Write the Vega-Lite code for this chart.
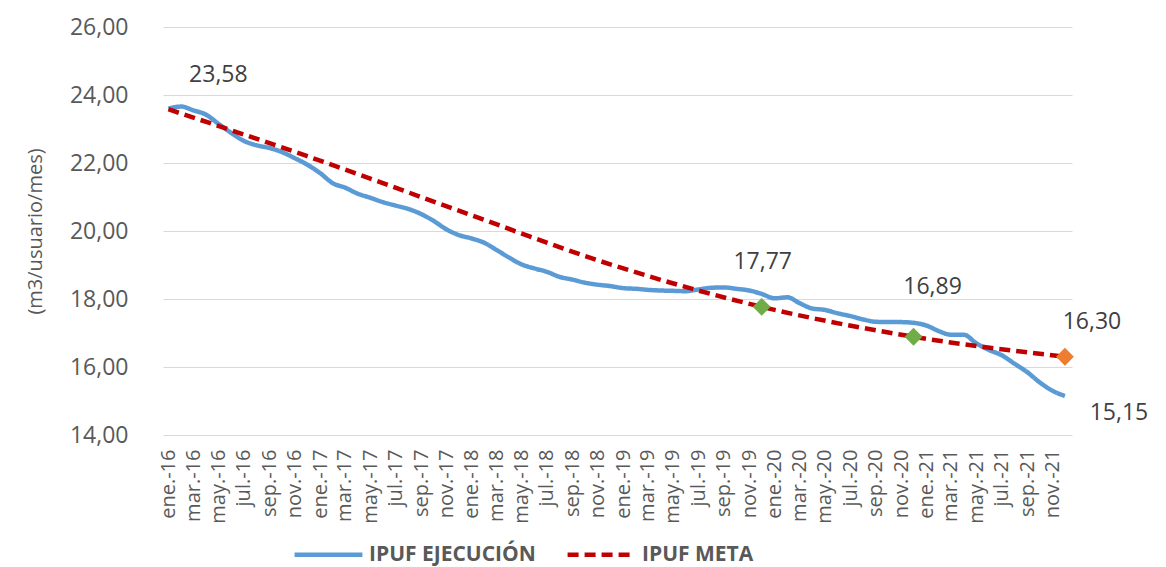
{
  "$schema": "https://vega.github.io/schema/vega-lite/v6.json",
  "width": 909,
  "height": 408,
  "autosize": "none",
  "padding": {"left": 163, "top": 27, "right": 94, "bottom": 132},
  "background": "white",
  "config": {"view": {"stroke": null}, "font": "Open Sans"},
  "datasets": {
    "series": [
      {"fecha": "2016/01/01", "serie": "IPUF EJECUCIÓN", "valor": 23.60},
      {"fecha": "2016/02/01", "serie": "IPUF EJECUCIÓN", "valor": 23.66},
      {"fecha": "2016/03/01", "serie": "IPUF EJECUCIÓN", "valor": 23.55},
      {"fecha": "2016/04/01", "serie": "IPUF EJECUCIÓN", "valor": 23.42},
      {"fecha": "2016/05/01", "serie": "IPUF EJECUCIÓN", "valor": 23.15},
      {"fecha": "2016/06/01", "serie": "IPUF EJECUCIÓN", "valor": 22.88},
      {"fecha": "2016/07/01", "serie": "IPUF EJECUCIÓN", "valor": 22.65},
      {"fecha": "2016/08/01", "serie": "IPUF EJECUCIÓN", "valor": 22.52},
      {"fecha": "2016/09/01", "serie": "IPUF EJECUCIÓN", "valor": 22.44},
      {"fecha": "2016/10/01", "serie": "IPUF EJECUCIÓN", "valor": 22.32},
      {"fecha": "2016/11/01", "serie": "IPUF EJECUCIÓN", "valor": 22.14},
      {"fecha": "2016/12/01", "serie": "IPUF EJECUCIÓN", "valor": 21.95},
      {"fecha": "2017/01/01", "serie": "IPUF EJECUCIÓN", "valor": 21.70},
      {"fecha": "2017/02/01", "serie": "IPUF EJECUCIÓN", "valor": 21.40},
      {"fecha": "2017/03/01", "serie": "IPUF EJECUCIÓN", "valor": 21.28},
      {"fecha": "2017/04/01", "serie": "IPUF EJECUCIÓN", "valor": 21.10},
      {"fecha": "2017/05/01", "serie": "IPUF EJECUCIÓN", "valor": 20.98},
      {"fecha": "2017/06/01", "serie": "IPUF EJECUCIÓN", "valor": 20.85},
      {"fecha": "2017/07/01", "serie": "IPUF EJECUCIÓN", "valor": 20.75},
      {"fecha": "2017/08/01", "serie": "IPUF EJECUCIÓN", "valor": 20.65},
      {"fecha": "2017/09/01", "serie": "IPUF EJECUCIÓN", "valor": 20.50},
      {"fecha": "2017/10/01", "serie": "IPUF EJECUCIÓN", "valor": 20.30},
      {"fecha": "2017/11/01", "serie": "IPUF EJECUCIÓN", "valor": 20.05},
      {"fecha": "2017/12/01", "serie": "IPUF EJECUCIÓN", "valor": 19.88},
      {"fecha": "2018/01/01", "serie": "IPUF EJECUCIÓN", "valor": 19.78},
      {"fecha": "2018/02/01", "serie": "IPUF EJECUCIÓN", "valor": 19.65},
      {"fecha": "2018/03/01", "serie": "IPUF EJECUCIÓN", "valor": 19.45},
      {"fecha": "2018/04/01", "serie": "IPUF EJECUCIÓN", "valor": 19.22},
      {"fecha": "2018/05/01", "serie": "IPUF EJECUCIÓN", "valor": 19.02},
      {"fecha": "2018/06/01", "serie": "IPUF EJECUCIÓN", "valor": 18.90},
      {"fecha": "2018/07/01", "serie": "IPUF EJECUCIÓN", "valor": 18.80},
      {"fecha": "2018/08/01", "serie": "IPUF EJECUCIÓN", "valor": 18.65},
      {"fecha": "2018/09/01", "serie": "IPUF EJECUCIÓN", "valor": 18.57},
      {"fecha": "2018/10/01", "serie": "IPUF EJECUCIÓN", "valor": 18.48},
      {"fecha": "2018/11/01", "serie": "IPUF EJECUCIÓN", "valor": 18.42},
      {"fecha": "2018/12/01", "serie": "IPUF EJECUCIÓN", "valor": 18.38},
      {"fecha": "2019/01/01", "serie": "IPUF EJECUCIÓN", "valor": 18.32},
      {"fecha": "2019/02/01", "serie": "IPUF EJECUCIÓN", "valor": 18.30},
      {"fecha": "2019/03/01", "serie": "IPUF EJECUCIÓN", "valor": 18.27},
      {"fecha": "2019/04/01", "serie": "IPUF EJECUCIÓN", "valor": 18.25},
      {"fecha": "2019/05/01", "serie": "IPUF EJECUCIÓN", "valor": 18.24},
      {"fecha": "2019/06/01", "serie": "IPUF EJECUCIÓN", "valor": 18.23},
      {"fecha": "2019/07/01", "serie": "IPUF EJECUCIÓN", "valor": 18.28},
      {"fecha": "2019/08/01", "serie": "IPUF EJECUCIÓN", "valor": 18.33},
      {"fecha": "2019/09/01", "serie": "IPUF EJECUCIÓN", "valor": 18.34},
      {"fecha": "2019/10/01", "serie": "IPUF EJECUCIÓN", "valor": 18.30},
      {"fecha": "2019/11/01", "serie": "IPUF EJECUCIÓN", "valor": 18.25},
      {"fecha": "2019/12/01", "serie": "IPUF EJECUCIÓN", "valor": 18.15},
      {"fecha": "2020/01/01", "serie": "IPUF EJECUCIÓN", "valor": 18.02},
      {"fecha": "2020/02/01", "serie": "IPUF EJECUCIÓN", "valor": 18.05},
      {"fecha": "2020/03/01", "serie": "IPUF EJECUCIÓN", "valor": 17.88},
      {"fecha": "2020/04/01", "serie": "IPUF EJECUCIÓN", "valor": 17.72},
      {"fecha": "2020/05/01", "serie": "IPUF EJECUCIÓN", "valor": 17.68},
      {"fecha": "2020/06/01", "serie": "IPUF EJECUCIÓN", "valor": 17.58},
      {"fecha": "2020/07/01", "serie": "IPUF EJECUCIÓN", "valor": 17.50},
      {"fecha": "2020/08/01", "serie": "IPUF EJECUCIÓN", "valor": 17.40},
      {"fecha": "2020/09/01", "serie": "IPUF EJECUCIÓN", "valor": 17.33},
      {"fecha": "2020/10/01", "serie": "IPUF EJECUCIÓN", "valor": 17.32},
      {"fecha": "2020/11/01", "serie": "IPUF EJECUCIÓN", "valor": 17.32},
      {"fecha": "2020/12/01", "serie": "IPUF EJECUCIÓN", "valor": 17.30},
      {"fecha": "2021/01/01", "serie": "IPUF EJECUCIÓN", "valor": 17.22},
      {"fecha": "2021/02/01", "serie": "IPUF EJECUCIÓN", "valor": 17.05},
      {"fecha": "2021/03/01", "serie": "IPUF EJECUCIÓN", "valor": 16.95},
      {"fecha": "2021/04/01", "serie": "IPUF EJECUCIÓN", "valor": 16.95},
      {"fecha": "2021/05/01", "serie": "IPUF EJECUCIÓN", "valor": 16.70},
      {"fecha": "2021/06/01", "serie": "IPUF EJECUCIÓN", "valor": 16.50},
      {"fecha": "2021/07/01", "serie": "IPUF EJECUCIÓN", "valor": 16.35},
      {"fecha": "2021/08/01", "serie": "IPUF EJECUCIÓN", "valor": 16.10},
      {"fecha": "2021/09/01", "serie": "IPUF EJECUCIÓN", "valor": 15.85},
      {"fecha": "2021/10/01", "serie": "IPUF EJECUCIÓN", "valor": 15.55},
      {"fecha": "2021/11/01", "serie": "IPUF EJECUCIÓN", "valor": 15.30},
      {"fecha": "2021/12/01", "serie": "IPUF EJECUCIÓN", "valor": 15.15},
      {"fecha": "2016/01/01", "serie": "IPUF META", "valor": 23.58},
      {"fecha": "2016/12/01", "serie": "IPUF META", "valor": 22.20},
      {"fecha": "2017/12/01", "serie": "IPUF META", "valor": 20.60},
      {"fecha": "2018/12/01", "serie": "IPUF META", "valor": 19.02},
      {"fecha": "2019/12/01", "serie": "IPUF META", "valor": 17.77},
      {"fecha": "2020/12/01", "serie": "IPUF META", "valor": 16.89},
      {"fecha": "2021/12/01", "serie": "IPUF META", "valor": 16.30}
    ],
    "hitos": [
      {"fecha": "2019/12/01", "valor": 17.77},
      {"fecha": "2020/12/01", "valor": 16.89},
      {"fecha": "2021/12/01", "valor": 16.30}
    ],
    "etiquetas": [
      {"fecha": "2016/01/01", "valor": 23.58, "texto": "23,58"},
      {"fecha": "2019/12/01", "valor": 17.77, "texto": "17,77"},
      {"fecha": "2020/12/01", "valor": 16.89, "texto": "16,89"},
      {"fecha": "2021/12/01", "valor": 16.30, "texto": "16,30"},
      {"fecha": "2021/12/01", "valor": 15.15, "texto": "15,15"}
    ]
  },
  "encoding": {
    "x": {
      "field": "fecha",
      "type": "temporal",
      "scale": {"domain": [{"year": 2015, "month": 12, "date": 19}, {"year": 2021, "month": 12, "date": 18}]},
      "axis": {
        "title": null,
        "tickCount": {"interval": "month", "step": 2},
        "labelExpr": "['ene.','feb.','mar.','abr.','may.','jun.','jul.','ago.','sep.','oct.','nov.','dic.'][month(datum.value)] + '-' + timeFormat(datum.value, '%y')",
        "labelAngle": -90,
        "labelFontSize": 20,
        "labelColor": "#595959",
        "labelPadding": 14,
        "labelOverlap": false,
        "labelFlush": false,
        "labelBound": false,
        "grid": false,
        "domain": false,
        "ticks": false
      }
    },
    "y": {
      "field": "valor",
      "type": "quantitative",
      "scale": {"domain": [14, 26]},
      "axis": {
        "title": "(m3/usuario/mes)",
        "titleFontSize": 20,
        "titleFontWeight": "normal",
        "titleColor": "#595959",
        "titlePadding": 24,
        "values": [14, 16, 18, 20, 22, 24, 26],
        "labelExpr": "replace(format(datum.value, '.2f'), '.', ',')",
        "labelFontSize": 23,
        "labelColor": "#595959",
        "labelPadding": 35,
        "gridColor": "#D9D9D9",
        "gridWidth": 1.2,
        "domain": false,
        "ticks": false
      }
    }
  },
  "layer": [
    {
      "data": {"name": "series"},
      "mark": {"type": "line", "strokeWidth": 4.5, "interpolate": "monotone"},
      "encoding": {
        "color": {
          "field": "serie",
          "type": "nominal",
          "scale": {"domain": ["IPUF EJECUCIÓN", "IPUF META"], "range": ["#5B9BD5", "#C00000"]},
          "legend": {
            "title": null,
            "orient": "none",
            "legendX": 129,
            "legendY": 491,
            "direction": "horizontal",
            "symbolType": "stroke",
            "symbolSize": 4600,
            "symbolStrokeWidth": 4.5,
            "labelFontSize": 21,
            "labelFontWeight": "bold",
            "labelColor": "#595959",
            "labelOffset": 4,
            "columnPadding": 22,
            "labelLimit": 400
          }
        },
        "strokeDash": {
          "field": "serie",
          "type": "nominal",
          "scale": {"domain": ["IPUF EJECUCIÓN", "IPUF META"], "range": [[1, 0], [11, 6]]},
          "legend": {
            "title": null,
            "orient": "none",
            "legendX": 129,
            "legendY": 491,
            "direction": "horizontal",
            "symbolType": "stroke",
            "symbolSize": 4600,
            "symbolStrokeWidth": 4.5,
            "labelFontSize": 21,
            "labelFontWeight": "bold",
            "labelColor": "#595959",
            "labelOffset": 4,
            "columnPadding": 22,
            "labelLimit": 400
          }
        }
      }
    },
    {
      "data": {"name": "hitos"},
      "transform": [{"filter": "datum.valor > 16.5"}],
      "mark": {"type": "point", "shape": "diamond", "filled": true, "size": 320, "color": "#70AD47", "opacity": 1}
    },
    {
      "data": {"name": "hitos"},
      "transform": [{"filter": "datum.valor < 16.5"}],
      "mark": {"type": "point", "shape": "diamond", "filled": true, "size": 320, "color": "#ED7D31", "opacity": 1}
    },
    {
      "data": {"name": "etiquetas"},
      "transform": [{"filter": "datum.texto == '23,58'"}],
      "mark": {"type": "text", "fontSize": 23, "color": "#404040", "dx": 50, "dy": -34},
      "encoding": {"text": {"field": "texto"}}
    },
    {
      "data": {"name": "etiquetas"},
      "transform": [{"filter": "datum.texto == '17,77'"}],
      "mark": {"type": "text", "fontSize": 23, "color": "#404040", "dx": 1, "dy": -45},
      "encoding": {"text": {"field": "texto"}}
    },
    {
      "data": {"name": "etiquetas"},
      "transform": [{"filter": "datum.texto == '16,89'"}],
      "mark": {"type": "text", "fontSize": 23, "color": "#404040", "dx": 19, "dy": -50},
      "encoding": {"text": {"field": "texto"}}
    },
    {
      "data": {"name": "etiquetas"},
      "transform": [{"filter": "datum.texto == '16,30'"}],
      "mark": {"type": "text", "fontSize": 23, "color": "#404040", "dx": 27, "dy": -35},
      "encoding": {"text": {"field": "texto"}}
    },
    {
      "data": {"name": "etiquetas"},
      "transform": [{"filter": "datum.texto == '15,15'"}],
      "mark": {"type": "text", "fontSize": 23, "color": "#404040", "dx": 54, "dy": 17},
      "encoding": {"text": {"field": "texto"}}
    }
  ]
}
